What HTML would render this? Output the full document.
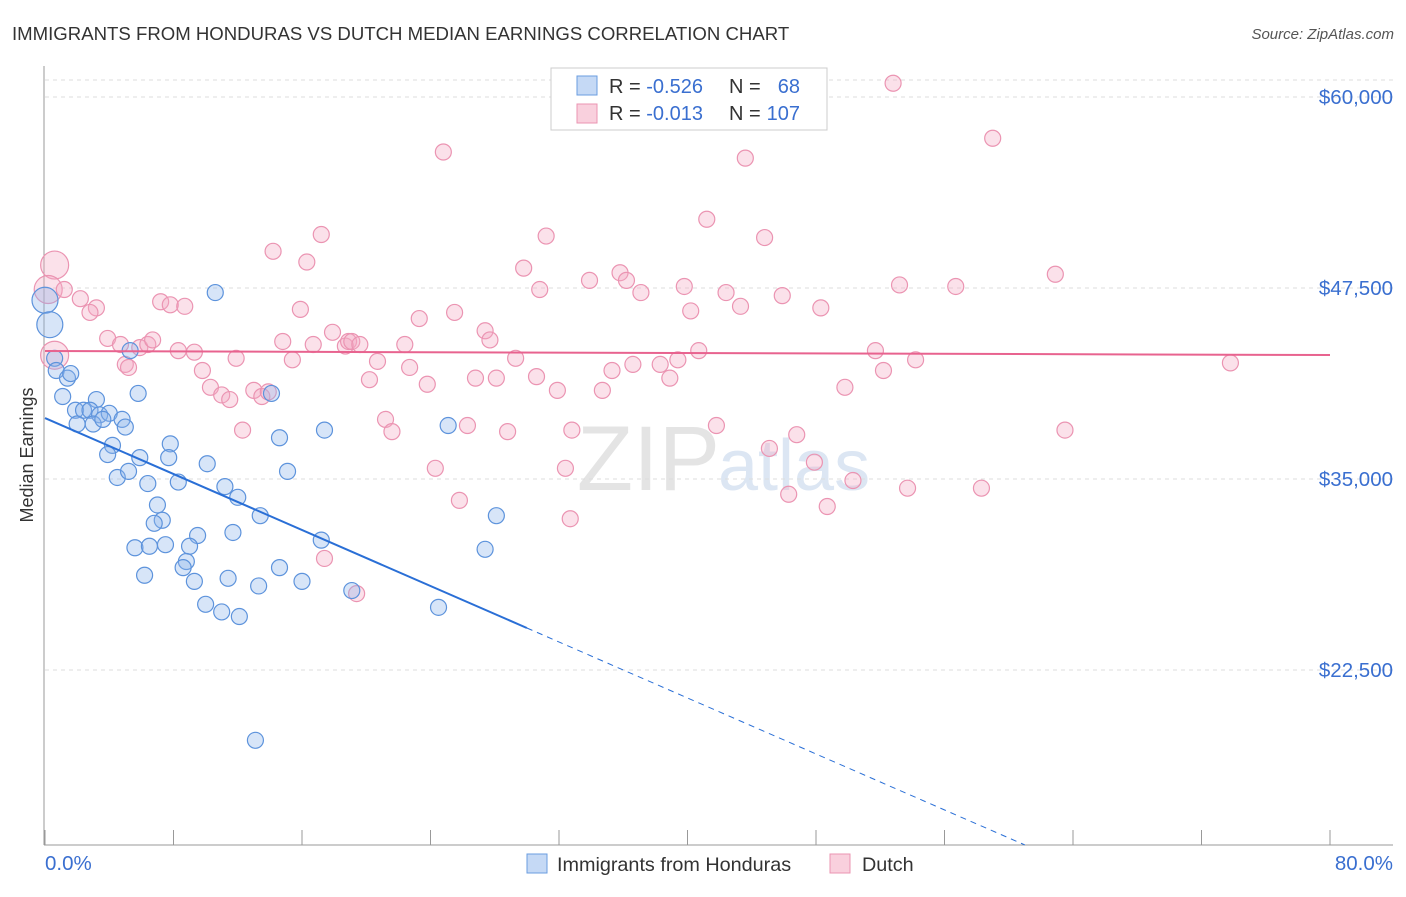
<!DOCTYPE html>
<html><head><meta charset="utf-8"><style>
body{margin:0;background:#fff;font-family:"Liberation Sans",sans-serif;}
svg text{font-family:"Liberation Sans",sans-serif;}
</style></head><body>
<svg id="chart" width="1406" height="892" xmlns="http://www.w3.org/2000/svg">
<text x="12" y="40" font-size="18.6" fill="#333">IMMIGRANTS FROM HONDURAS VS DUTCH MEDIAN EARNINGS CORRELATION CHART</text>
<text x="1394" y="39" font-size="15" fill="#555" text-anchor="end" font-style="italic">Source: ZipAtlas.com</text>
<text x="720" y="490" font-size="92" fill="#e4e4e4" text-anchor="end" font-family="Liberation Serif">ZIP</text>
<text x="718" y="490" font-size="72" fill="#dce6f3">atlas</text>
<g id="grid"></g><g id="pts"></g><g id="lines"></g>
<text transform="translate(33,455) rotate(-90)" font-size="18" fill="#333" text-anchor="middle">Median Earnings</text>
<text x="45" y="870" font-size="20.5" fill="#3a6fd0">0.0%</text>
<text x="1393" y="870" font-size="20.5" fill="#3a6fd0" text-anchor="end">80.0%</text>
<g>
<rect x="551" y="68" width="276" height="62" fill="#fff" stroke="#ccc"/>
<rect x="577" y="76" width="20" height="19" fill="#c5d9f5" stroke="#6a9de0"/>
<rect x="577" y="104" width="20" height="19" fill="#f9d0dd" stroke="#eb94b2"/>
<text x="609" y="93" font-size="20" fill="#333">R = <tspan fill="#3a6fd0">-0.526</tspan></text>
<text x="729" y="93" font-size="20" fill="#333">N =</text>
<text x="800" y="93" font-size="20" fill="#3a6fd0" text-anchor="end">68</text>
<text x="609" y="120" font-size="20" fill="#333">R = <tspan fill="#3a6fd0">-0.013</tspan></text>
<text x="729" y="120" font-size="20" fill="#333">N =</text>
<text x="800" y="120" font-size="20" fill="#3a6fd0" text-anchor="end">107</text>
</g>
<g><rect x="527" y="854" width="20" height="19" fill="#c5d9f5" stroke="#6a9de0"/><text x="557" y="871" font-size="19.8" fill="#333">Immigrants from Honduras</text></g>
<g><rect x="830" y="854" width="20" height="19" fill="#f9d0dd" stroke="#eb94b2"/><text x="862" y="871" font-size="19.8" fill="#333">Dutch</text></g>
</svg>
<script>
const yTicks=[22500,35000,47500,60000];
const yTickLabels=["$22,500","$35,000","$47,500","$60,000"];
const xTicks=[0,8,16,24,32,40,48,56,64,72,80];
const blueX=[0.0,0.3,0.6,0.7,1.4,1.6,1.1,3.2,1.9,2.4,2.8,3.4,4.0,2.0,3.0,3.6,4.8,5.0,5.8,4.2,3.9,4.5,5.2,5.9,6.4,7.0,7.8,7.7,7.3,6.8,5.6,6.5,7.5,8.3,10.1,10.6,11.2,12.0,13.4,11.7,14.6,14.1,15.1,17.4,17.2,25.1,28.1,27.4,9.5,9.0,8.8,8.6,9.3,11.4,6.2,10.0,11.0,12.1,13.3,14.6,16.0,19.1,24.5,13.1,5.3];
const blueY=[46700,45100,42900,42100,41600,41900,40400,40200,39500,39500,39500,39200,39300,38600,38600,38900,38900,38400,40600,37200,36600,35100,35500,36400,34700,33300,37300,36400,32300,32100,30500,30600,30700,34800,36000,47200,34500,33800,32600,31500,37700,40600,35500,38200,31000,38500,32600,30400,31300,30600,29600,29200,28300,28500,28700,26800,26300,26000,28000,29200,28300,27700,26600,17900,43400];
const pinkX=[0.6,0.2,0.6,1.2,2.2,3.2,2.8,3.9,4.7,5.9,6.4,6.7,5.0,5.2,7.2,7.8,8.7,8.3,9.3,9.8,10.3,11.0,11.5,11.9,12.3,13.0,13.5,13.9,14.2,14.8,15.4,15.9,16.3,16.7,17.2,17.9,18.7,18.9,19.1,19.6,20.2,20.7,21.2,21.6,22.4,22.7,23.3,23.8,24.3,24.8,25.5,25.8,26.3,26.8,27.4,27.7,28.1,28.8,29.3,29.8,30.6,30.8,31.2,31.9,32.4,32.8,32.7,33.9,34.7,35.3,35.8,36.2,36.6,37.1,38.3,38.9,39.4,39.8,40.2,40.7,41.2,41.8,42.4,43.3,43.6,44.8,45.1,45.9,46.3,46.8,47.9,48.3,48.7,49.8,50.3,51.7,52.2,52.8,53.2,53.7,54.2,56.7,58.3,59.0,62.9,63.5,73.8,17.4,19.4];
const pinkY=[49000,47400,43100,47400,46800,46200,45900,44200,43800,43600,43800,44100,42500,42300,46600,46400,46300,43400,43300,42100,41000,40500,40200,42900,38200,40800,40400,40700,49900,44000,42800,46100,49200,43800,51000,44600,43700,44000,44000,43800,41500,42700,38900,38100,43800,42300,45500,41200,35700,56400,45900,33600,38500,41600,44700,44100,41600,38100,42900,48800,41700,47400,50900,40800,35700,38200,32400,48000,40800,42100,48500,48000,42500,47200,42500,41600,42800,47600,46000,43400,52000,38500,47200,46300,56000,50800,37000,47000,34000,37900,36100,46200,33200,41000,34900,43400,42100,60900,47700,34400,42800,47600,34400,57300,48400,38200,42600,29800,27500];
const blueTrend=[38990,25250,30.0];
const pinkTrend=[43375,43114];
const X=v=>45+v/80*1285;
const Y=v=>97+(60000-v)*0.01528;
const NS="http://www.w3.org/2000/svg";
function mk(p,t,a){const e=document.createElementNS(NS,t);for(const k in a)e.setAttribute(k,a[k]);p.appendChild(e);return e;}
const grid=document.getElementById('grid');
let gl=mk(grid,'line',{x1:45,x2:1393,y1:80,y2:80,stroke:'#ddd','stroke-dasharray':'4,4'});


yTicks.forEach((v,i)=>{
 const l=mk(grid,'line',{x1:45,x2:1393,y1:Y(v),y2:Y(v),stroke:'#ddd','stroke-dasharray':'4,4'});
 
 
 const t=mk(grid,'text',{x:1393,y:Y(v)+7,'font-size':20.5,fill:'#3a6fd0','text-anchor':'end'});
 t.textContent=yTickLabels[i];
 
 
});
let ax=mk(grid,'line',{x1:44,x2:44,y1:66,y2:845,stroke:'#999'});


let bx=mk(grid,'line',{x1:44,x2:1393,y1:845,y2:845,stroke:'#999'});


xTicks.forEach(v=>{const t=mk(grid,'line',{x1:X(v),x2:X(v),y1:830,y2:845,stroke:'#999'});
 
 });
const pts=document.getElementById('pts');
pinkX.forEach((x,i)=>{const c=mk(pts,'circle',{cx:X(x),cy:Y(pinkY[i]),r:i<3?14:8,fill:'rgba(244,170,195,0.35)',stroke:'#eb94b2','stroke-width':1.2});
 
 });
blueX.forEach((x,i)=>{const c=mk(pts,'circle',{cx:X(x),cy:Y(blueY[i]),r:i<2?13:8,fill:'rgba(140,180,235,0.35)',stroke:'#5d93dc','stroke-width':1.2});
 
 });
const lines=document.getElementById('lines');
const slope=(blueTrend[1]-blueTrend[0])/blueTrend[2];
const endX=(11050-blueTrend[0])/slope;
let b1=mk(lines,'line',{x1:X(0),y1:Y(blueTrend[0]),x2:X(blueTrend[2]),y2:Y(blueTrend[1]),stroke:'#2a6fd6','stroke-width':2});


let b2=mk(lines,'line',{x1:X(blueTrend[2]),y1:Y(blueTrend[1]),x2:X(endX),y2:Y(11050),stroke:'#2a6fd6','stroke-width':1,'stroke-dasharray':'6,5'});


let p1=mk(lines,'line',{x1:X(0),y1:Y(pinkTrend[0]),x2:X(80),y2:Y(pinkTrend[1]),stroke:'#e8638f','stroke-width':2});


</script>
</body></html>
